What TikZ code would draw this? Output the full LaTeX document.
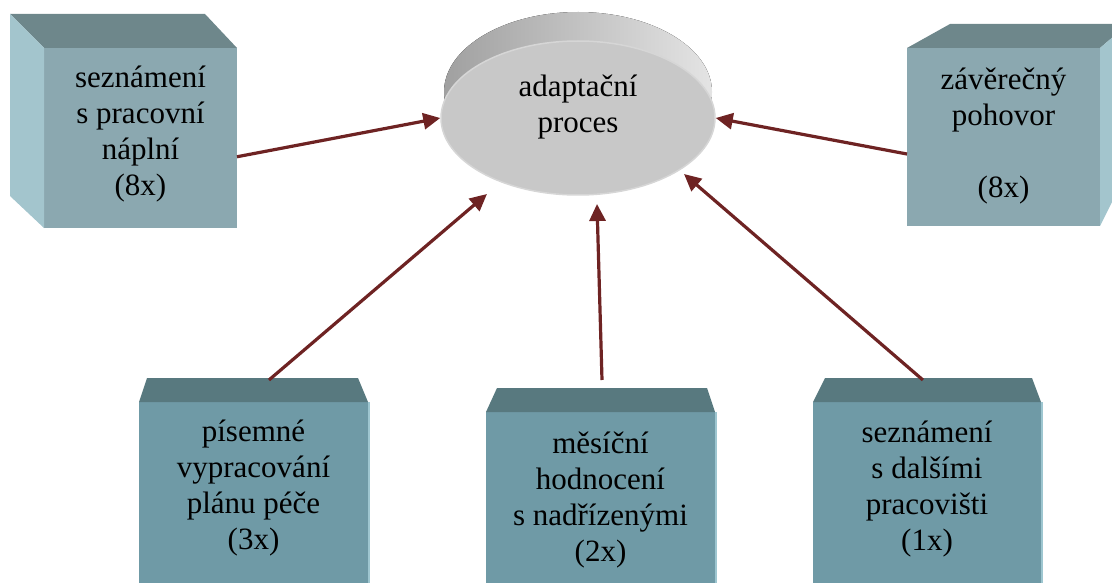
\documentclass[tikz,border=0pt]{standalone}
\usepackage{fontspec}
\setmainfont{Liberation Serif}
\usetikzlibrary{arrows.meta,calc,shapes.geometric}

% box palette: upper boxes are greyer, lower boxes are more saturated
\definecolor{upfront}{RGB}{139,168,176}
\definecolor{upcap}{RGB}{110,135,139}
\definecolor{upside}{RGB}{163,197,205}
\definecolor{lowfront}{RGB}{111,154,166}
\definecolor{lowcap}{RGB}{88,121,127}
\definecolor{lowside}{RGB}{158,198,208}
\definecolor{linkred}{RGB}{110,35,35}
\definecolor{discface}{RGB}{200,200,200}
\definecolor{discedge}{RGB}{214,214,214}
\definecolor{rimdark}{RGB}{160,160,160}
\definecolor{rimlight}{RGB}{228,228,228}

\begin{document}
\begin{tikzpicture}[x=1pt,y=-1pt,
  face/.style={rectangle, inner sep=0pt, outer sep=0pt},
  upbox/.style={face, fill=upfront},
  lowbox/.style={face, fill=lowfront},
  boxtext/.style={align=center, inner sep=0pt, text=black,
    font=\fontsize{31}{36}\selectfont},
  link/.style={draw=linkred, line width=3.2pt,
    -{Triangle[length=17pt,width=16pt]}},
]
\useasboundingbox (0,0) rectangle (1112,583);
\clip (0,0) rectangle (1112,583);

% ---- central disc: shaded rim behind a flat face ----
\fill[left color=rimdark, right color=rimlight] (578,92) ellipse [x radius=134, y radius=80];
\node[ellipse, minimum width=274pt, minimum height=154pt, inner sep=0pt,
      fill=discface, draw=discedge, line width=1.5pt] (proc) at (578,118) {};
\node[boxtext] (proc-t) at ([yshift=10.5pt]proc.center) {adaptační\\proces};

% ---- upper left box ----
\node[upbox, minimum width=193pt, minimum height=180pt] (tl) at (140.5,138) {};
\fill[upcap] (tl.north west) -- ++(-34,-34) -- ++(195,0) -- (tl.north east) -- cycle;
\fill[upside] (tl.north west) -- ++(-34,-34) -- ++(0,182) -- (tl.south west) -- cycle;
\node[boxtext] (tl-t) at ([yshift=4pt]tl.center) {seznámení\\s pracovní\\náplní\\(8x)};

% ---- upper right box ----
\node[upbox, minimum width=193pt, minimum height=178pt] (tr) at (1003.5,137) {};
\fill[upcap] (tr.north west) -- ++(43,-24) -- ++(178,0) -- (tr.north east) -- cycle;
\fill[upside] (tr.north east) -- ++(28,-24) -- ++(0,146) -- (tr.south east) -- cycle;
\node[boxtext] (tr-t) at ([yshift=0.5pt]tr.center) {závěrečný\\pohovor\\[36pt](8x)};

% ---- lower boxes ----
\node[lowbox, minimum width=229pt, minimum height=188pt] (bl) at (253.5,496) {};
\fill[lowcap] (bl.north west) -- ++(8,-24) coordinate (bl-a) -- ++(211,0) coordinate (bl-b)
  -- (bl.north east) -- cycle;
\fill[lowside] (bl.north east) rectangle ++(2,188);
\node[boxtext] (bl-t) at ([yshift=8pt]bl.center) {písemné\\vypracování\\plánu péče\\(3x)};

\node[lowbox, minimum width=229pt, minimum height=178pt] (bm) at (600.5,501) {};
\fill[lowcap] (bm.north west) -- ++(11,-24) coordinate (bm-a) -- ++(210,0) coordinate (bm-b)
  -- (bm.north east) -- cycle;
\fill[lowside] (bm.north east) rectangle ++(2,178);
\node[boxtext] (bm-t) at ([yshift=1pt]bm.center) {měsíční\\hodnocení\\s nadřízenými\\(2x)};

\node[lowbox, minimum width=228pt, minimum height=188pt] (br) at (927,496) {};
\fill[lowcap] (br.north west) -- ++(12,-24) coordinate (br-a) -- ++(207,0) coordinate (br-b)
  -- (br.north east) -- cycle;
\fill[lowside] (br.north east) rectangle ++(2,188);
\node[boxtext] (br-t) at ([yshift=7pt]br.center) {seznámení\\s dalšími\\pracovišti\\(1x)};

% ---- arrow heads stop short of the disc ----
\coordinate (tip-bl) at (487,194);
\coordinate (tip-bm) at (597,204);
\coordinate (tip-br) at (684,174);

% ---- connectors ----
\draw[link] (tl.-11) -- (proc.west);
\draw[link] (tr.190.6) -- (proc.east);
\draw[link] ($(bl-a)!0.578!(bl-b)+(0,2)$) -- (tip-bl);
\draw[link] ($(bm-a)!0.5!(bm-b)+(0,-8)$) -- (tip-bm);
\draw[link] ($(br-a)!0.473!(br-b)+(0,2)$) -- (tip-br);
\end{tikzpicture}
\end{document}
